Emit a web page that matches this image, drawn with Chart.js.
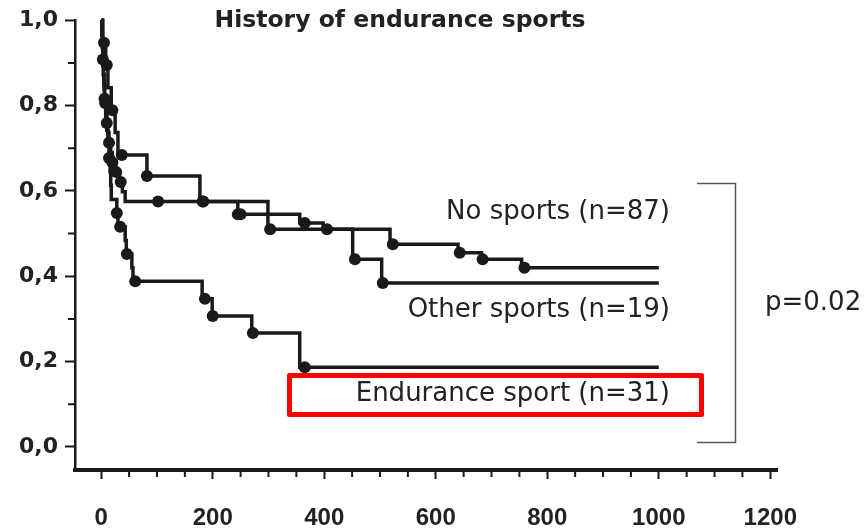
<!DOCTYPE html>
<html>
<head>
<meta charset="utf-8">
<script src="https://cdn.jsdelivr.net/npm/chart.js@4.4.0/dist/chart.umd.min.js"></script>
<style>
  html, body { margin: 0; padding: 0; background: #fff; }
</style>
</head>
<body>
<canvas id="km" width="867" height="531"></canvas>
<script>
// axis ticks
var xTicks = [0, 200, 400, 600, 800, 1000, 1200];
var xTickLabels = ['0', '200', '400', '600', '800', '1000', '1200'];
var yTicks = [0, 0.2, 0.4, 0.6, 0.8, 1.0];
var yTickLabels = ['0,0', '0,2', '0,4', '0,6', '0,8', '1,0'];

// Kaplan-Meier steps: time of drop and survival after it
var noSportsTime = [0, 1, 2, 3, 4, 5, 6, 8, 10, 12, 14, 17, 20, 26, 33, 38, 43, 245, 356, 398, 518, 640, 682, 754, 1000];
var noSportsSurv = [1, 0.966, 0.943, 0.908, 0.874, 0.851, 0.816, 0.793, 0.759, 0.736, 0.713, 0.69, 0.667, 0.644, 0.621, 0.598, 0.575, 0.545, 0.525, 0.51, 0.475, 0.455, 0.44, 0.42, 0.42];
var noSportsMarks = [3, 6, 10, 14, 20, 27, 35, 102, 183, 245, 250, 365, 405, 523, 643, 684, 759];

var otherTime = [0, 3, 8, 12, 18, 25, 30, 82, 177, 299, 451, 503, 1000];
var otherSurv = [1, 0.947, 0.895, 0.842, 0.789, 0.737, 0.684, 0.635, 0.575, 0.51, 0.44, 0.384, 0.384];
var otherMarks = [5, 10, 20, 37, 82, 182, 303, 455, 505];

var enduranceTime = [0, 1, 2, 3, 4, 5, 6, 8, 10, 12, 14, 16, 17, 18, 28, 30, 43, 45, 55, 57, 181, 199, 270, 356, 1000];
var enduranceSurv = [1, 0.968, 0.935, 0.903, 0.871, 0.839, 0.806, 0.774, 0.742, 0.71, 0.677, 0.645, 0.613, 0.58, 0.548, 0.516, 0.484, 0.452, 0.42, 0.388, 0.347, 0.307, 0.267, 0.187, 0.187];
var enduranceMarks = [7, 14, 28, 34, 46, 61, 186, 200, 272, 365];

var ink = '#1a1a1a';

function steps(t, s) {
    return t.map(function (v, i) { return {x: v, y: s[i]}; });
}
// put each mark on its curve
function marks(m, t, s) {
    return m.map(function (v) {
        var y = s[0];
        for (var i = 0; i < t.length; i++) { if (t[i] <= v) y = s[i]; }
        return {x: v, y: y};
    });
}
function curve(t, s) {
    return {type: 'line', data: steps(t, s), stepped: 'before', borderColor: ink,
        borderWidth: 3.5, pointRadius: 0, fill: false, clip: false};
}
function dots(m, t, s) {
    return {type: 'scatter', data: marks(m, t, s), pointRadius: 6, pointHoverRadius: 6,
        backgroundColor: ink, borderColor: ink, borderWidth: 0, clip: false};
}

var labelFont = '26px "DejaVu Sans", sans-serif';

var extras = {
    id: 'extras',
    afterDraw: function (chart) {
        var c = chart.ctx;
        var xs = chart.scales.x, ys = chart.scales.y;
        var area = chart.chartArea;
        c.save();
        // minor ticks
        c.strokeStyle = ink;
        c.lineWidth = 2;
        c.beginPath();
        for (var v = 50; v < 1200; v += 50) {
            if (v % 200 === 0) continue;
            var px = xs.getPixelForValue(v);
            c.moveTo(px, area.bottom + 2);
            c.lineTo(px, area.bottom + 7);
        }
        for (var k = 1; k < 10; k += 2) {
            var py = ys.getPixelForValue(k / 10);
            c.moveTo(area.left - 7, py);
            c.lineTo(area.left, py);
        }
        c.stroke();

        // title
        c.fillStyle = '#222';
        c.textBaseline = 'middle';
        c.textAlign = 'center';
        c.font = 'bold 23.5px "DejaVu Sans", sans-serif';
        c.fillText('History of endurance sports', 400, 21);

        // group labels
        c.font = labelFont;
        c.textAlign = 'right';
        c.fillText('No sports (n=87)', 670, 212);
        c.fillText('Other sports (n=19)', 670, 310);
        c.fillText('Endurance sport (n=31)', 670, 394);

        // red box
        c.strokeStyle = '#ff0000';
        c.lineWidth = 5;
        c.lineJoin = 'round';
        c.strokeRect(289.5, 375.5, 412, 39);

        // bracket
        c.strokeStyle = '#555';
        c.lineWidth = 1.5;
        c.lineJoin = 'miter';
        c.beginPath();
        c.moveTo(697, 183.5);
        c.lineTo(735.5, 183.5);
        c.lineTo(735.5, 442.5);
        c.lineTo(697, 442.5);
        c.stroke();

        c.textAlign = 'left';
        c.fillText('p=0.02', 765, 303);
        c.restore();
    }
};

new Chart(document.getElementById('km').getContext('2d'), {
    data: {
        datasets: [
            curve(noSportsTime, noSportsSurv),
            curve(otherTime, otherSurv),
            curve(enduranceTime, enduranceSurv),
            dots(noSportsMarks, noSportsTime, noSportsSurv),
            dots(otherMarks, otherTime, otherSurv),
            dots(enduranceMarks, enduranceTime, enduranceSurv)
        ]
    },
    options: {
        responsive: false,
        animation: false,
        layout: {padding: {top: 17, right: 90, left: 0, bottom: 0}},
        plugins: {legend: {display: false}, tooltip: {enabled: false}, title: {display: false}},
        scales: {
            x: {
                type: 'linear', position: 'bottom', min: -47, max: 1212,
                afterBuildTicks: function (s) { s.ticks = xTicks.map(function (v) { return {value: v}; }); },
                afterFit: function (s) { s.height = 61; },
                border: {display: true, color: ink, width: 4},
                grid: {drawOnChartArea: false, drawTicks: true, tickLength: 9, tickWidth: 2, tickColor: ink},
                ticks: {
                    autoSkip: false, maxRotation: 0, padding: 25, color: '#222',
                    font: {family: '"Liberation Sans", Arial, sans-serif', size: 24, weight: 'bold'},
                    callback: function (v, i) { return xTickLabels[i]; }
                }
            },
            y: {
                type: 'linear', position: 'left', min: -0.054, max: 1.0,
                afterBuildTicks: function (s) { s.ticks = yTicks.map(function (v) { return {value: v}; }); },
                afterFit: function (s) { s.width = 75; },
                border: {display: true, color: ink, width: 2.5},
                grid: {drawOnChartArea: false, drawTicks: true, tickLength: 10, tickWidth: 2, tickColor: ink},
                ticks: {
                    padding: 7, color: '#222',
                    font: {family: '"DejaVu Sans", sans-serif', size: 22, weight: 'bold'},
                    callback: function (v, i) { return yTickLabels[i]; }
                }
            }
        }
    },
    plugins: [extras]
});
</script>
</body>
</html>
